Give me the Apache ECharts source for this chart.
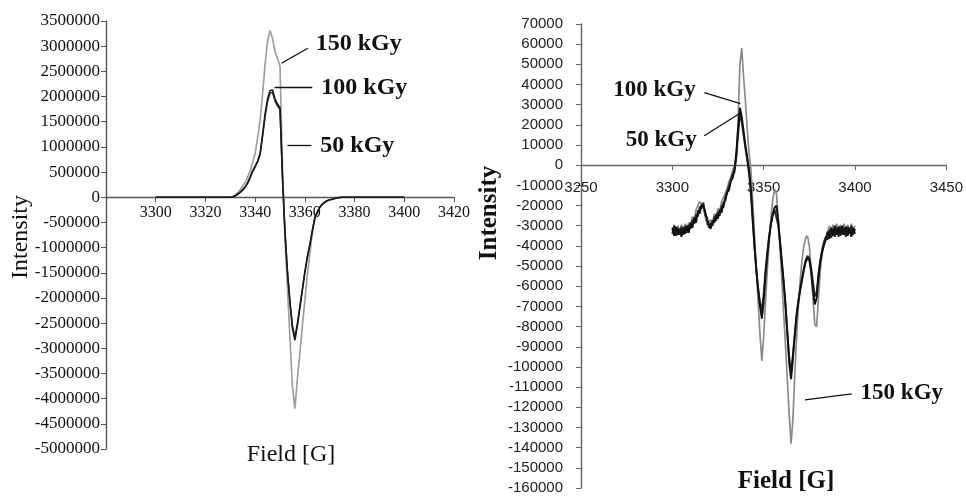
<!DOCTYPE html>
<html>
<head>
<meta charset="utf-8">
<script src="https://cdn.jsdelivr.net/npm/echarts@6/dist/echarts.min.js"></script>
<style>
html,body{margin:0;padding:0;background:#fff;}
#chart{width:966px;height:498px;}
</style>
</head>
<body>
<div id="chart"></div>
<script>
// Magnetic field [G], shared by both panels
const fields = [
3300,3301,3302,3303,3304,3305,3306,3307,3308,3309,
3310,3311,3312,3313,3314,3315,3316,3317,3318,3319,
3320,3321,3322,3323,3324,3325,3326,3327,3328,3329,
3330,3331,3332,3333,3334,3335,3336,3337,3338,3339,
3340,3341,3342,3343,3344,3345,3346,3347,3348,3349,
3350,3351,3352,3353,3354,3355,3356,3357,3358,3359,
3360,3361,3362,3363,3364,3365,3366,3367,3368,3369,
3370,3371,3372,3373,3374,3375,3376,3377,3378,3379,
3380,3381,3382,3383,3384,3385,3386,3387,3388,3389,
3390,3391,3392,3393,3394,3395,3396,3397,3398,3399,
3400];

const doseNames = ['50 kGy', '100 kGy', '150 kGy'];

// Left panel intensities
const left150 = [
0,0,0,0,0,0,0,0,0,0,
0,0,0,0,0,0,0,0,0,0,
0,0,0,0,0,0,0,0,0,0,
0,15000,45000,90000,150000,220000,300000,400000,530000,690000,
870000,1180000,1530000,2050000,2650000,3100000,3310000,3150000,2900000,2750000,
2600000,600000,-800000,-1800000,-2800000,-3750000,-4200000,-3600000,-3100000,-2550000,
-2050000,-1550000,-1130000,-700000,-420000,-300000,-200000,-140000,-100000,-70000,
-50000,-40000,-25000,-15000,-5000,0,0,0,0,0,
0,0,0,0,0,0,0,0,0,0,
0,0,0,0,0,0,0,0,0,0,
0];
const left100 = [
0,0,0,0,0,0,0,0,0,0,
0,0,0,0,0,0,0,0,0,0,
0,0,0,0,0,0,0,0,0,0,
0,10000,30000,60000,100000,150000,210000,290000,400000,530000,
620000,720000,870000,1250000,1650000,1950000,2120000,2130000,1950000,1850000,
1780000,400000,-700000,-1500000,-2100000,-2600000,-2840000,-2550000,-2200000,-1850000,
-1500000,-1200000,-950000,-680000,-420000,-300000,-200000,-140000,-100000,-70000,
-50000,-40000,-25000,-15000,-5000,0,0,0,0,0,
0,0,0,0,0,0,0,0,0,0,
0,0,0,0,0,0,0,0,0,0,
0];
const left50 = [
0,0,0,0,0,0,0,0,0,0,
0,0,0,0,0,0,0,0,0,0,
0,0,0,0,0,0,0,0,0,0,
0,8000,28000,55000,95000,140000,200000,280000,385000,510000,
600000,700000,850000,1210000,1610000,1900000,2070000,2080000,1910000,1810000,
1740000,380000,-680000,-1460000,-2060000,-2550000,-2780000,-2500000,-2160000,-1820000,
-1470000,-1180000,-930000,-660000,-410000,-290000,-195000,-135000,-95000,-68000,
-48000,-38000,-24000,-14000,-5000,0,0,0,0,0,
0,0,0,0,0,0,0,0,0,0,
0,0,0,0,0,0,0,0,0,0,
0];

// Right panel intensities
const right100 = [
-31000,-35000,-30500,-34500,-31500,-35500,-31000,-34000,-30000,-33500,
-28500,-31000,-26000,-28500,-22500,-24000,-19500,-20500,-23000,-27000,
-29500,-31500,-27500,-28500,-24500,-26500,-22000,-23500,-18500,-17500,
-13500,-12500,-8000,-6500,-2000,6000,18000,28500,24000,17000,
10000,4000,-2000,-12000,-26000,-40000,-52000,-62000,-70000,-76000,
-68000,-55000,-45000,-36000,-29000,-24000,-21000,-20000,-28000,-38000,
-48000,-58000,-70000,-84000,-98000,-106000,-96000,-85000,-75000,-68000,
-62000,-57000,-52000,-48000,-46000,-47000,-53000,-62000,-69000,-66000,
-56000,-48000,-43000,-39500,-37000,-33000,-36500,-31000,-35000,-30000,
-34500,-30500,-35000,-30000,-34500,-30500,-35000,-31000,-35500,-31000,
-34000];
const right50 = [
-34000,-30000,-35000,-31000,-34500,-30500,-34500,-30000,-33500,-29500,
-31500,-27000,-29000,-24500,-25500,-20500,-21500,-18500,-24500,-26000,
-31000,-28500,-30000,-25500,-27500,-23000,-25000,-20000,-21000,-16000,
-15500,-10500,-10000,-4500,-3500,4000,15000,25500,21500,15000,
8500,2500,-4000,-14000,-28000,-41000,-52000,-61000,-68000,-72000,
-64000,-52000,-43000,-35000,-29000,-25000,-22000,-22000,-30000,-39000,
-49000,-59000,-70000,-83000,-95000,-103000,-94000,-84000,-74000,-67000,
-61000,-56000,-51000,-47000,-45000,-46000,-51000,-58000,-65000,-63000,
-54000,-47000,-42000,-38000,-35500,-37000,-32000,-36000,-31500,-35500,
-31000,-35500,-30500,-34500,-31000,-35500,-30500,-34000,-30000,-34500,
-31500];
const right150 = [
-32500,-29500,-33500,-30000,-33000,-29500,-32500,-29000,-32000,-28500,
-29500,-25500,-27000,-22000,-22500,-18000,-19000,-21000,-25500,-29500,
-30000,-27000,-29000,-24000,-25500,-21500,-22500,-18000,-18000,-14000,
-11500,-8000,-6000,-2500,-500,2000,22000,50000,58000,44000,
32000,18000,6000,-2000,-18000,-35000,-52000,-68000,-84000,-97000,
-85000,-68000,-52000,-38000,-26000,-17000,-12000,-14000,-26000,-42000,
-58000,-74000,-90000,-107000,-124000,-138000,-126000,-105000,-86000,-70000,
-57000,-47000,-40000,-36000,-35000,-40000,-52000,-66000,-79000,-80000,
-66000,-52000,-44000,-40000,-36000,-33500,-30000,-33000,-29500,-33000,
-29000,-32500,-29500,-33500,-29000,-33000,-29500,-33500,-29000,-32500,
-30000];

// Axis ranges [min, max, interval]
const leftFieldAxis = [3280, 3420, 20];
const leftIntensityAxis = [-5000000, 3500000, 500000];
const rightFieldAxis = [3250, 3450, 50];
const rightIntensityAxis = [-160000, 70000, 10000];

const pairs = ys => fields.map((f, i) => [f, ys[i]]);

const gridL = { left: 106, top: 21, width: 348, height: 428 };
const gridR = { left: 581, top: 24, width: 369, height: 464 };
// x axes sit on the zero line: shift them up from the grid bottom
const zeroOffset = (g, r) => -g.height * (0 - r[0]) / (r[1] - r[0]);

function leader(from, to, text, pos, size) {
  return {
    silent: true,
    animation: false,
    symbol: ['none', 'none'],
    lineStyle: { color: '#111', width: 1.3, type: 'solid' },
    label: {
      show: true, position: pos, formatter: text, distance: 9,
      color: '#111', fontFamily: "'Liberation Serif', serif",
      fontWeight: 'bold', fontSize: size
    },
    emphasis: { disabled: true },
    data: [[{ coord: from }, { coord: to }]]
  };
}

const chart = echarts.init(document.getElementById('chart'), null, { renderer: 'canvas' });

const axisLineL = { show: true, onZero: false, lineStyle: { color: '#555', width: 1.4 } };
const axisLineR = { show: true, onZero: false, lineStyle: { color: '#666', width: 1.4 } };
const plain = v => String(v);

chart.setOption({
  animation: false,
  backgroundColor: '#fff',
  grid: [gridL, gridR],
  xAxis: [
    {
      type: 'value', gridIndex: 0, position: 'bottom',
      offset: zeroOffset(gridL, leftIntensityAxis),
      min: leftFieldAxis[0], max: leftFieldAxis[1], interval: leftFieldAxis[2],
      axisLine: axisLineL,
      axisTick: { show: true, length: 5, lineStyle: { color: '#555' } },
      axisLabel: { showMinLabel: false, margin: 8, color: '#111', fontSize: 16,
                   fontFamily: "'Liberation Serif', serif", formatter: plain },
      splitLine: { show: false }
    },
    {
      type: 'value', gridIndex: 1, position: 'bottom',
      offset: zeroOffset(gridR, rightIntensityAxis),
      min: rightFieldAxis[0], max: rightFieldAxis[1], interval: rightFieldAxis[2],
      axisLine: axisLineR,
      axisTick: { show: true, length: 5, lineStyle: { color: '#666' } },
      axisLabel: { margin: 15, color: '#222', fontSize: 15,
                   fontFamily: "'Liberation Sans', Arial, sans-serif", formatter: plain },
      splitLine: { show: false }
    }
  ],
  yAxis: [
    {
      type: 'value', gridIndex: 0,
      min: leftIntensityAxis[0], max: leftIntensityAxis[1], interval: leftIntensityAxis[2],
      axisLine: axisLineL,
      axisTick: { show: true, length: 5, lineStyle: { color: '#555' } },
      axisLabel: { margin: 6, color: '#111', fontSize: 17,
                   fontFamily: "'Liberation Serif', serif", formatter: plain },
      splitLine: { show: false }
    },
    {
      type: 'value', gridIndex: 1,
      min: rightIntensityAxis[0], max: rightIntensityAxis[1], interval: rightIntensityAxis[2],
      axisLine: axisLineR,
      axisTick: { show: true, length: 5, lineStyle: { color: '#666' } },
      axisLabel: { margin: 18, color: '#222', fontSize: 15,
                   fontFamily: "'Liberation Sans', Arial, sans-serif", formatter: plain },
      splitLine: { show: false }
    }
  ],
  series: [
    { name: doseNames[2], type: 'line', xAxisIndex: 0, yAxisIndex: 0, data: pairs(left150),
      showSymbol: false, symbol: 'none', lineStyle: { color: '#a0a0a0', width: 1.7 },
      markLine: leader([3350.6, 2660000], [3361.2, 2960000], doseNames[2], 'end', 24) },
    { name: doseNames[0], type: 'line', xAxisIndex: 0, yAxisIndex: 0, data: pairs(left50),
      showSymbol: false, symbol: 'none', lineStyle: { color: '#333', width: 1.5 },
      markLine: leader([3353, 1030000], [3362.6, 1030000], doseNames[0], 'end', 24) },
    { name: doseNames[1], type: 'line', xAxisIndex: 0, yAxisIndex: 0, data: pairs(left100),
      showSymbol: false, symbol: 'none', lineStyle: { color: '#1a1a1a', width: 1.6 },
      markLine: leader([3347.8, 2180000], [3363, 2180000], doseNames[1], 'end', 24) },

    { name: doseNames[2] + ' R', type: 'line', xAxisIndex: 1, yAxisIndex: 1, data: pairs(right150),
      showSymbol: false, symbol: 'none', lineStyle: { color: '#8a8a8a', width: 1.7 },
      markLine: leader([3372.6, -116300], [3398.2, -113300], doseNames[2], 'end', 23) },
    { name: doseNames[0] + ' R', type: 'line', xAxisIndex: 1, yAxisIndex: 1, data: pairs(right50),
      showSymbol: false, symbol: 'none', lineStyle: { color: '#2a2a2a', width: 1.9 },
      markLine: leader([3317.5, 14600], [3336.6, 25500], doseNames[0], 'start', 23) },
    { name: doseNames[1] + ' R', type: 'line', xAxisIndex: 1, yAxisIndex: 1, data: pairs(right100),
      showSymbol: false, symbol: 'none', lineStyle: { color: '#111', width: 1.9 },
      markLine: leader([3317.5, 36000], [3337.3, 30500], doseNames[1], 'start', 23) }
  ],
  graphic: [
    { type: 'text', x: 21, y: 237, rotation: Math.PI / 2,
      style: { text: 'Intensity', font: "24px 'Liberation Serif', serif", fill: '#111',
               align: 'center', verticalAlign: 'middle' } },
    { type: 'text', x: 291, y: 455,
      style: { text: 'Field [G]', font: "24px 'Liberation Serif', serif", fill: '#111',
               align: 'center', verticalAlign: 'middle' } },
    { type: 'text', x: 490, y: 213, rotation: Math.PI / 2,
      style: { text: 'Intensity', font: "bold 25px 'Liberation Serif', serif", fill: '#111',
               align: 'center', verticalAlign: 'middle' } },
    { type: 'text', x: 786, y: 482,
      style: { text: 'Field [G]', font: "bold 25px 'Liberation Serif', serif", fill: '#111',
               align: 'center', verticalAlign: 'middle' } }
  ]
});
</script>
</body>
</html>
